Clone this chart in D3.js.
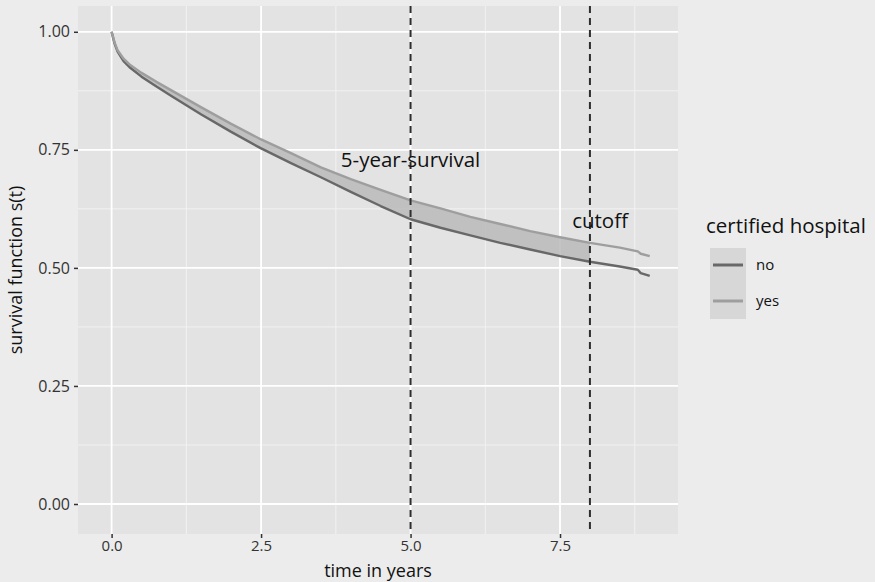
<!DOCTYPE html>
<html>
<head>
<meta charset="utf-8">
<script src="https://cdn.jsdelivr.net/npm/d3@7"></script>
<style>
  html, body { margin: 0; padding: 0; background: #ececec; }
  svg { display: block; }
  text { font-family: "Open Sans", "Noto Sans", sans-serif; }
</style>
</head>
<body>
<svg id="chart" width="875" height="582"></svg>
<script>
// ---- data ----
const times = [0, 0.05, 0.1, 0.2, 0.3, 0.5, 0.75, 1.0, 1.5, 2.0, 2.5, 3.0, 3.5, 4.0, 4.5, 5.0, 5.5, 6.0, 6.5, 7.0, 7.5, 8.0, 8.5, 8.8, 8.85, 9.0];
const survNo  = [1.000, 0.975, 0.958, 0.938, 0.925, 0.905, 0.884, 0.864, 0.825, 0.788, 0.753, 0.722, 0.692, 0.661, 0.631, 0.603, 0.585, 0.569, 0.553, 0.539, 0.525, 0.513, 0.503, 0.496, 0.489, 0.483];
const survYes = [1.000, 0.977, 0.961, 0.943, 0.931, 0.913, 0.894, 0.876, 0.840, 0.805, 0.772, 0.743, 0.713, 0.688, 0.665, 0.643, 0.626, 0.608, 0.593, 0.578, 0.565, 0.553, 0.543, 0.535, 0.530, 0.525];
const groups = ["no", "yes"];
const groupColors = ["#686868", "#9e9e9e"];
const cutLines = [5, 8];
const annotations = [
  { t: 5.0, s: 0.728, label: "5-year-survival" },
  { t: 8.17, s: 0.600, label: "cutoff" }
];
const ribbonEnd = 8;
const xTicks = [0, 2.5, 5.0, 7.5];
const xMinor = [1.25, 3.75, 6.25, 8.75];
const yTicks = [0, 0.25, 0.5, 0.75, 1.0];
const yMinor = [0.125, 0.375, 0.625, 0.875];
const xTitle = "time in years";
const yTitle = "survival function s(t)";
const legendTitle = "certified hospital";

// ---- layout ----
const svg = d3.select("#chart");
const P = { left: 78, right: 678, top: 6, bottom: 534 };

const x = d3.scaleLinear().domain([-0.562, 9.473]).range([P.left, P.right]);
const y = d3.scaleLinear().domain([-0.0635, 1.0546]).range([P.bottom, P.top]);

// panel
svg.append("rect").attr("x", P.left).attr("y", P.top)
  .attr("width", P.right - P.left).attr("height", P.bottom - P.top)
  .attr("fill", "#e3e3e3");

const grid = svg.append("g");
grid.selectAll(".xm").data(xMinor).enter().append("line")
  .attr("x1", d => x(d)).attr("x2", d => x(d)).attr("y1", P.top).attr("y2", P.bottom)
  .attr("stroke", "#f4f4f4").attr("stroke-width", 0.9);
grid.selectAll(".ym").data(yMinor).enter().append("line")
  .attr("y1", d => y(d)).attr("y2", d => y(d)).attr("x1", P.left).attr("x2", P.right)
  .attr("stroke", "#f4f4f4").attr("stroke-width", 0.9);
grid.selectAll(".xM").data(xTicks).enter().append("line")
  .attr("x1", d => x(d)).attr("x2", d => x(d)).attr("y1", P.top).attr("y2", P.bottom)
  .attr("stroke", "#ffffff").attr("stroke-width", 1.8);
grid.selectAll(".yM").data(yTicks).enter().append("line")
  .attr("y1", d => y(d)).attr("y2", d => y(d)).attr("x1", P.left).attr("x2", P.right)
  .attr("stroke", "#ffffff").attr("stroke-width", 1.8);

// ribbon
const rib = times.map((t, i) => ({ t, lo: survNo[i], hi: survYes[i] })).filter(d => d.t <= ribbonEnd);
svg.append("path").datum(rib)
  .attr("d", d3.area().x(d => x(d.t)).y0(d => y(d.lo)).y1(d => y(d.hi)))
  .attr("fill", "#bababa").attr("fill-opacity", 0.85);

// lines
const series = [survNo, survYes];
series.forEach((vals, gi) => {
  svg.append("path").datum(times.map((t, i) => [t, vals[i]]))
    .attr("d", d3.line().x(d => x(d[0])).y(d => y(d[1])))
    .attr("fill", "none").attr("stroke", groupColors[gi]).attr("stroke-width", 2.4)
    .attr("stroke-linejoin", "round");
});

// dashed cut lines
svg.selectAll(".cut").data(cutLines).enter().append("line")
  .attr("x1", d => x(d)).attr("x2", d => x(d)).attr("y1", P.top).attr("y2", P.bottom)
  .attr("stroke", "#2e2e2e").attr("stroke-width", 2).attr("stroke-dasharray", "7,5");

// annotations
svg.selectAll(".ann").data(annotations).enter().append("text")
  .attr("x", d => x(d.t)).attr("y", d => y(d.s)).attr("dy", "0.35em")
  .attr("text-anchor", "middle").attr("font-size", 20.5).attr("fill", "#111")
  .text(d => d.label);

// axes
const xAxis = svg.append("g").attr("transform", `translate(0,${P.bottom})`)
  .call(d3.axisBottom(x).tickValues(xTicks).tickFormat(d3.format(".1f")).tickSize(4).tickPadding(2));
const yAxis = svg.append("g").attr("transform", `translate(${P.left},0)`)
  .call(d3.axisLeft(y).tickValues(yTicks).tickFormat(d3.format(".2f")).tickSize(4).tickPadding(4));
[xAxis, yAxis].forEach(a => {
  a.select(".domain").remove();
  a.selectAll(".tick line").attr("stroke", "#333").attr("stroke-width", 1.5);
  a.selectAll(".tick text").attr("fill", "#333")
    .attr("font-family", "'Open Sans', 'Noto Sans', sans-serif");
});
xAxis.selectAll(".tick text").attr("font-size", 15);
yAxis.selectAll(".tick text").attr("font-size", 16);

// axis titles
svg.append("text").attr("x", (P.left + P.right) / 2).attr("y", 576.5)
  .attr("text-anchor", "middle").attr("font-size", 18).attr("fill", "#111").text(xTitle);
svg.append("text").attr("transform", `translate(22,${(P.top + P.bottom) / 2}) rotate(-90)`)
  .attr("text-anchor", "middle").attr("font-size", 18).attr("fill", "#111").text(yTitle);

// legend
const lg = svg.append("g");
lg.append("text").attr("x", 706).attr("y", 233).attr("font-size", 20.5).attr("fill", "#111").text(legendTitle);
lg.append("rect").attr("x", 710).attr("y", 248).attr("width", 36).attr("height", 71).attr("fill", "#d7d7d7");
groups.forEach((g, i) => {
  const cy = 265 + i * 36;
  lg.append("line").attr("x1", 713).attr("x2", 743).attr("y1", cy).attr("y2", cy)
    .attr("stroke", groupColors[i]).attr("stroke-width", 3);
  lg.append("text").attr("x", 756).attr("y", cy).attr("dy", "0.35em")
    .attr("font-size", 15).attr("fill", "#111").text(g);
});
</script>
</body>
</html>
